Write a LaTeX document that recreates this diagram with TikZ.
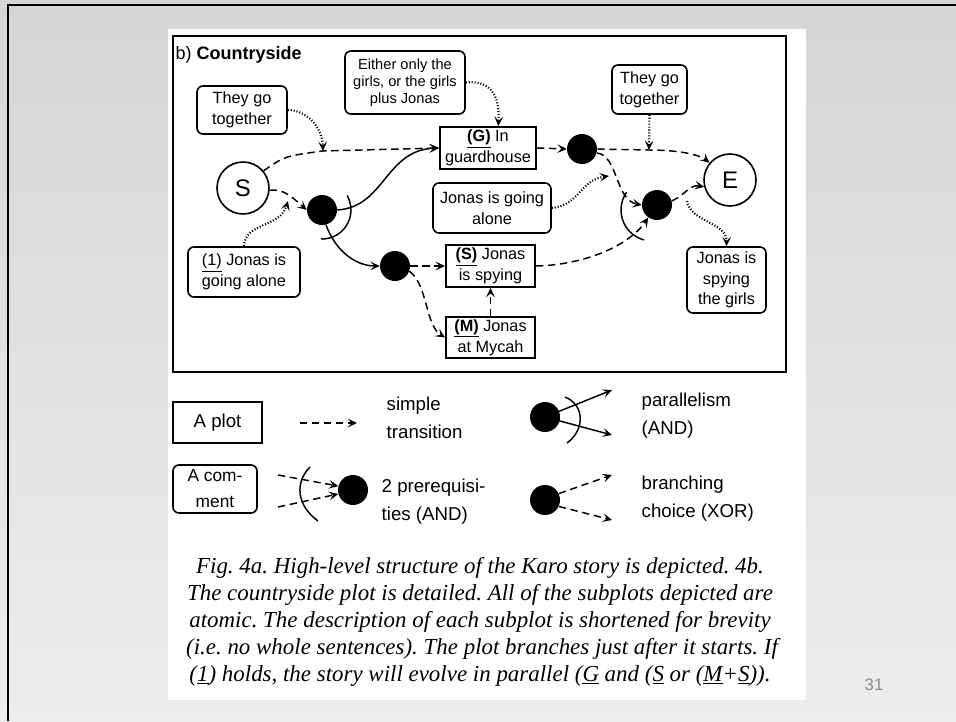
\documentclass[tikz,border=0pt]{standalone}
\usepackage{fontspec}
\setmainfont{Liberation Sans}
\newfontfamily\capfont{Liberation Serif}
\usetikzlibrary{arrows.meta}
\definecolor{bgtop}{RGB}{213,213,213}
\definecolor{bgbot}{RGB}{237,237,237}
\definecolor{pagenum}{RGB}{140,140,140}
\begin{document}
\frenchspacing
\begin{tikzpicture}[x=0.75pt,y=0.75pt,
  >={Stealth[length=7pt,width=6.5pt,inset=3pt]},
  conn/.style={line width=1.1pt},
  dsh/.style={conn,dash pattern=on 5.5pt off 3.5pt},
  dotline/.style={line width=1.6pt,dash pattern=on 0.8pt off 1.4pt},
  every node/.style={font=\fontsize{12.2}{15.5}\selectfont},
  plotbox/.style={draw,line width=1.5pt,inner sep=0pt,align=center},
  combox/.style={draw,line width=1.2pt,rounded corners=4.5pt,inner sep=0pt,align=center},
  bullet/.style={circle,fill=black,minimum size=22.5pt,inner sep=0pt},
  endpt/.style={circle,draw,line width=1.2pt,minimum size=39pt,inner sep=0pt,font=\fontsize{18}{20}\selectfont},
  legtext/.style={anchor=west,align=left,font=\fontsize{14}{21}\selectfont},
  capline/.style={anchor=base,font=\capfont\itshape\fontsize{17.2}{20}\selectfont},
]
\useasboundingbox (0,0) rectangle (956,-721);
% slide background
\shade[top color=bgtop,bottom color=bgbot] (0,0) rectangle (956,-721);
\fill[white] (168,-29) rectangle (806,-700);
\draw[line width=1.5pt] (8,-721) -- (8,-5) -- (956,-5);
% diagram frame
\draw[line width=1.8pt] (173,-36) rectangle (786,-372);
\node[anchor=base west,font=\fontsize{13.5}{15}\selectfont] (title) at (171,-59) {b) \textbf{Countryside}};

% main nodes
\node[endpt] (S) at (243,-188) {S};
\node[endpt] (E) at (730,-180) {E};
\node[bullet] (d1) at (322,-210) {};
\node[bullet] (d2) at (395,-266) {};
\node[bullet] (d3) at (582,-149) {};
\node[bullet] (d4) at (657,-205) {};
\node[plotbox,minimum width=72pt,minimum height=31.5pt] (G) at (488,-148) {\underline{\textbf{(G)}} In\\guardhouse};
\node[plotbox,minimum width=66.75pt,minimum height=31.5pt] (Sp) at (490.5,-266) {\underline{\textbf{(S)}} Jonas\\is spying};
\node[plotbox,minimum width=66.75pt,minimum height=30.75pt] (M) at (490.5,-337.5) {\underline{\textbf{(M)}} Jonas\\at Mycah};
\node[combox,minimum width=67.5pt,minimum height=36pt] (c1) at (242,-110) {They go\\together};
\node[combox,minimum width=90pt,minimum height=47.25pt,font=\fontsize{11}{12.75}\selectfont] (c2) at (405,-82.5) {Either only the\\girls, or the girls\\plus Jonas};
\node[combox,minimum width=56.25pt,minimum height=36.75pt] (c3) at (649.5,-89.5) {They go\\together};
\node[combox,minimum width=88.5pt,minimum height=37.5pt] (c4) at (492,-208) {Jonas is going\\alone};
\node[combox,minimum width=84pt,minimum height=37.5pt] (c5) at (244,-272) {\underline{(1)} Jonas is\\going alone};
\node[combox,minimum width=59.25pt,minimum height=49.5pt] (c6) at (726.5,-280) {Jonas is\\spying\\the girls};

% junction points of comment arrows
\coordinate (j1) at (323,-151);
\coordinate (j2) at (288,-201);
\coordinate (j3) at (649,-150);
\coordinate (j4) at (609,-176);
\coordinate (j5) at (687,-201);

% connectors
\draw[dsh,->] (S.40) .. controls (285,-156) .. (j1) -- (G.west);
\draw[dsh,->] (S.-5) .. controls (285,-188) and (295,-200) .. (d1.west);
\draw[conn,->] (d1.east) .. controls (385,-207) and (385,-150) .. (G.west);
\draw[conn,->] (d1.-75) .. controls (335,-250) and (355,-266) .. (d2.west);
\draw[conn] (d1.center) ++(30:21.75pt) arc[start angle=30,end angle=-92,radius=21.75pt];
\draw[dsh,->] (d2.east) -- (Sp.west);
\draw[dsh,->] (d2.-20) .. controls (428,-285) and (425,-325) .. (M.west);
\draw[dsh,->] (M.north) -- (Sp.south);
\draw[dsh,->] (G.east) -- (d3.west);
\draw[dsh,->] (d3.east) -- (j3) .. controls (680,-150) and (700,-155) .. (E.140);
\draw[dsh,->] (d3.-15) .. controls (618,-155) and (615,-200) .. (d4.west);
\draw[dsh,->] (Sp.east) .. controls (585,-265) and (630,-245) .. (d4.-125);
\draw[conn] (652,-210) ++(145:23.25pt) arc[start angle=145,end angle=255,radius=23.25pt];
\draw[dsh,->] (d4.15) .. controls (685,-195) and (690,-184) .. (E.195);

% comment arrows
\draw[dotline,->] (c1.east) .. controls (305,-110) and (322,-125) .. (j1);
\draw[dotline,->] (c5.north) .. controls (245,-222) and (280,-228) .. (j2);
\draw[dotline,->] (c2.east) .. controls (490,-80) and (500,-95) .. (G.65);
\draw[dotline,->] (c3.south) -- (j3);
\draw[dotline,->] (c4.east) .. controls (580,-205) and (580,-180) .. (j4);
\draw[dotline,->] (j5) .. controls (690,-222) and (727,-222) .. (c6.north);

% legend
\node[plotbox,minimum width=66.75pt,minimum height=30.75pt,font=\fontsize{14}{21}\selectfont] (lplot) at (217.5,-422.5) {A plot};
\node[combox,minimum width=63pt,minimum height=36pt,font=\fontsize{13}{19.5}\selectfont] (lcom) at (215,-489) {A com-\\ment};
\coordinate (la1) at (300,-423);
\coordinate (la2) at (357,-423);
\draw[dsh,->] (la1) -- (la2);
\node[legtext] (lt1) at (382,-418) {simple\\transition};

\node[bullet] (lA) at (353,-490) {};
\coordinate (lA1) at (278,-475);
\coordinate (lA2) at (278,-507);
\draw[dsh,->] (lA1) -- (lA.165);
\draw[dsh,->] (lA2) -- (lA.195);
\draw[conn] (310,-467) .. controls (295,-482) and (296,-505) .. (318,-521);
\node[legtext] (lt2) at (377,-502) {2 prerequisi-\\ties (AND)};

\node[bullet] (lP) at (545,-417) {};
\coordinate (lP1) at (612,-390);
\coordinate (lP2) at (612,-435);
\draw[conn,->] (lP.center) -- (lP1);
\draw[conn,->] (lP.center) -- (lP2);
\draw[conn] (565,-397) .. controls (585,-405) and (585,-430) .. (567,-443);
\node[legtext] (lt3) at (637,-416) {parallelism\\(AND)};

\node[bullet] (lX) at (545,-500) {};
\coordinate (lX1) at (612,-475);
\coordinate (lX2) at (612,-520);
\draw[dsh,->] (lX.25) -- (lX1);
\draw[dsh,->] (lX.-25) -- (lX2);
\node[legtext] (lt4) at (637,-499) {branching\\choice (XOR)};

% caption
\node[capline] (cap1) at (480,-573) {Fig. 4a. High-level structure of the Karo story is depicted. 4b.};
\node[capline] (cap2) at (480,-600) {The countryside plot is detailed. All of the subplots depicted are};
\node[capline] (cap3) at (480,-627) {atomic. The description of each subplot is shortened for brevity};
\node[capline] (cap4) at (482,-654) {(i.e. no whole sentences). The plot branches just after it starts. If};
\node[capline] (cap5) at (480,-681) {(\underline{1}) holds, the story will evolve in parallel (\underline{G} and (\underline{S} or (\underline{M}+\underline{S})).};

\node[text=pagenum,font=\fontsize{12.5}{14}\selectfont] (pnum) at (874,-685) {31};
\end{tikzpicture}
\end{document}
